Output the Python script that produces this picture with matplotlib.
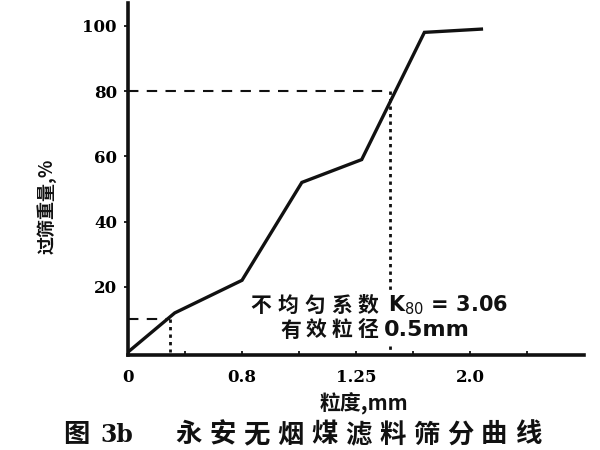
import matplotlib.pyplot as plt

# posizioni sull'asse x (una tacca per setaccio), etichette solo su alcune
tick_pos = [0, 1, 2, 3, 4, 5, 6, 7]
label_pos = [0, 2, 4, 6]
label_txt = ['0', '0.8', '1.25', '2.0']

# curva granulometrica (posizione x, % passante)
curve_x = [0, 0.82, 2.0, 3.05, 4.1, 5.2, 6.2]
curve_y = [0, 12, 22, 52, 59, 98, 99]

# punti di lettura d80 e d10
d80_x, d80_y = 4.6, 80
d10_x, d10_y = 0.74, 10

y_ticks = [20, 40, 60, 80, 100]

cjk = ['Noto Sans CJK SC', 'DejaVu Sans']
ink = '#111111'

fig = plt.figure(figsize=(6, 4.5), dpi=100)
ax = fig.add_axes([128 / 600, 95 / 450, 456 / 600, 352 / 450])

ax.plot(curve_x, curve_y, color=ink, lw=2.4, solid_joinstyle='miter')
ax.plot([0, d80_x], [d80_y, d80_y], color=ink, lw=1.5, ls=(0, (5, 4)))
# la linea puntinata si interrompe sopra il testo
ax.plot([d80_x, d80_x], [d80_y, 18], color=ink, lw=2, ls=(0, (1.2, 1.5)))
ax.plot([d80_x, d80_x], [2, 0], color=ink, lw=2, ls=(0, (1.2, 1.5)))
ax.plot([0, d10_x], [d10_y, d10_y], color=ink, lw=1.5, ls=(0, (5, 4)))
ax.plot([d10_x, d10_x], [d10_y, 0], color=ink, lw=2, ls=(0, (1.2, 1.5)))

ax.set_xlim(0, 8)
ax.set_ylim(-0.9, 107)
for s in ['top', 'right']:
    ax.spines[s].set_visible(False)
for s in ['left', 'bottom']:
    ax.spines[s].set_linewidth(2.6)
    ax.spines[s].set_color(ink)

ax.set_xticks(tick_pos)
ax.set_xticklabels([label_txt[label_pos.index(p)] if p in label_pos else '' for p in tick_pos],
                   family='DejaVu Serif', fontsize=12, weight='bold')
ax.tick_params(axis='x', direction='in', length=3, width=1.2, pad=10)
ax.set_yticks(y_ticks)
ax.set_yticklabels([str(v) for v in y_ticks], family='DejaVu Serif', fontsize=12, weight='bold')
ax.tick_params(axis='y', direction='out', length=3, width=1.2, pad=5)


def spaced(x0, y, s, pitch, size, weight='bold'):
    for i, ch in enumerate(s):
        fig.text((x0 + i * pitch) / 600, 1 - y / 450, ch, family=cjk, fontsize=size,
                 weight=weight, ha='left', va='center', color=ink)


# annotazioni
spaced(250, 305, '不均匀系数', 27, 15)
fig.text(388 / 600, 1 - 305 / 450, 'K$_{80}$ = 3.06', family='DejaVu Sans', fontsize=15,
         weight='bold', ha='left', va='center', color=ink)
spaced(280, 330, '有效粒径', 26, 15)
fig.text(384 / 600, 1 - 330 / 450, '0.5mm', family='DejaVu Sans', fontsize=16, weight='bold',
         ha='left', va='center', color=ink)

# etichette assi e titolo
fig.text(364 / 600, 1 - 404 / 450, '粒度,mm', family=cjk, fontsize=15, weight='bold',
         ha='center', va='center', color=ink)
fig.text(47 / 600, 1 - 206 / 450, '过筛重量,%', family=cjk, fontsize=13, weight='bold',
         rotation=90, ha='center', va='center', color=ink)
fig.text(63 / 600, 1 - 435 / 450, '图', family=cjk, fontsize=19, weight='bold',
         ha='left', va='center', color=ink)
fig.text(100 / 600, 1 - 435 / 450, '3b', family='DejaVu Serif', fontsize=17, weight='bold',
         ha='left', va='center', color=ink)
spaced(175, 435, '永安无烟煤滤料筛分曲线', 34, 19)

fig.savefig('out.png', dpi=100)
